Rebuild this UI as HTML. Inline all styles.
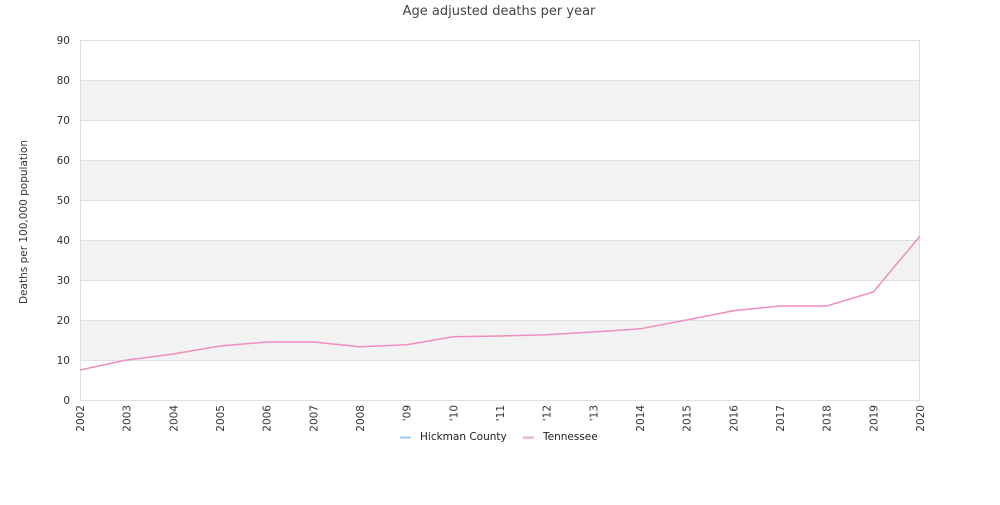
<!DOCTYPE html>
<html><head><meta charset="utf-8"><style>
body{margin:0;background:#fff;font-family:"Liberation Sans","DejaVu Sans",sans-serif;}
</style></head><body>
<svg width="1000" height="500" xmlns="http://www.w3.org/2000/svg" font-family="DejaVu Sans, Liberation Sans, sans-serif">
<text x="499" y="15" text-anchor="middle" font-size="13" fill="#444">Age adjusted deaths per year</text>
<g id="bands"></g>
<g id="yaxis"></g>
<g id="xaxis"></g>
<text transform="translate(27,222) rotate(-90)" text-anchor="middle" font-size="10.5" fill="#333">Deaths per 100,000 population</text>
<g id="series"></g>
<g>
<g><line x1="400" y1="437.5" x2="411" y2="437.5" stroke="#9cc9f0" stroke-width="2"/><text x="420" y="440" font-size="10.5" fill="#222">Hickman County</text></g>
<g><line x1="523" y1="437.5" x2="534" y2="437.5" stroke="#f4a7cc" stroke-width="2"/><text x="543" y="440" font-size="10.5" fill="#222">Tennessee</text></g>
</g>
</svg>
<script>
const years=["2002","2003","2004","2005","2006","2007","2008","'09","'10","'11","'12","'13","2014","2015","2016","2017","2018","2019","2020"];
const tennessee=[7.5,10,11.5,13.5,14.5,14.5,13.3,13.8,15.8,16,16.3,17,17.8,20,22.3,23.5,23.5,27,41];
const hickman=[];
const yTicks=[0,10,20,30,40,50,60,70,80,90];
const NS="http://www.w3.org/2000/svg";
const L=80,R=920,T=40,B=400,YMAX=90;
const x=i=>L+i*(R-L)/(years.length-1);
const y=v=>B-v/YMAX*(B-T);
function mk(tag,attrs,parent){const e=document.createElementNS(NS,tag);for(const k in attrs)e.setAttribute(k,attrs[k]);parent.appendChild(e);return e;}
const bands=document.getElementById('bands'),ya=document.getElementById('yaxis'),xa=document.getElementById('xaxis'),se=document.getElementById('series');
for(let i=0;i<yTicks.length-1;i++){
  if(i%2===1){const r=mk('rect',{x:L,y:y(yTicks[i+1]),width:R-L,height:y(yTicks[i])-y(yTicks[i+1]),fill:'#f2f2f2'},bands);
  
  }
}
yTicks.forEach(t=>{
  const g=mk('line',{x1:L,x2:R,y1:y(t)+0.5,y2:y(t)+0.5,stroke:'#e0e0e0','stroke-width':1},ya);
  
  
  const tx=mk('text',{x:70,y:y(t)+4,'text-anchor':'end','font-size':'10.5',fill:'#333'},ya);
  tx.textContent=t;
  
  
});
mk('line',{x1:L+0.5,x2:L+0.5,y1:T,y2:B,stroke:'#ddd'},ya);
mk('line',{x1:R-0.5,x2:R-0.5,y1:T,y2:B,stroke:'#ddd'},ya);
years.forEach((yr,i)=>{
  const tx=mk('text',{transform:`translate(${x(i)+4},405) rotate(-90)`,'text-anchor':'end','font-size':'10.5',fill:'#333'},xa);
  tx.textContent=yr;
  
  
});
function line(vals,color,name){
  if(!vals.length)return;
  const p=mk('polyline',{points:vals.map((v,i)=>x(i)+','+y(v)).join(' '),fill:'none',stroke:color,'stroke-width':1.5},se);
  
  
}
line(hickman,'#9cc9f0','hickman-line');
line(tennessee,'#f08cbf','tennessee-line');
</script>
</body></html>
